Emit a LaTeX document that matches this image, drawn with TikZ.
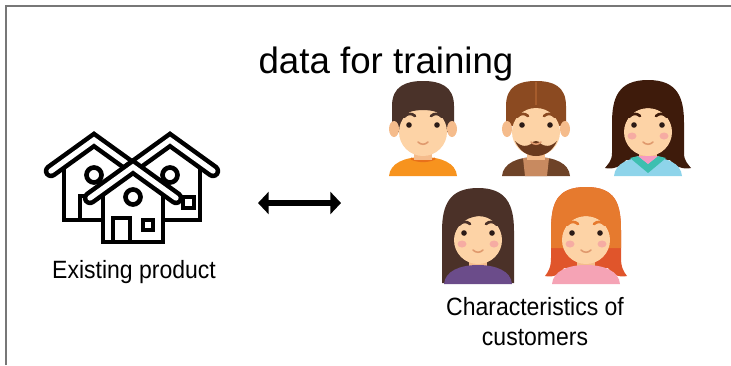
\documentclass[tikz,border=0pt]{standalone}
\usepackage{fontspec}
\setmainfont{Liberation Sans}
\newfontfamily\labelfont[FakeStretch=0.92]{Liberation Sans}
\usetikzlibrary{arrows.meta}

\definecolor{framegray}{HTML}{777777}
\definecolor{skin}{HTML}{FDD3A6}
\definecolor{skindark}{HTML}{F5BC8C}
\definecolor{cheek}{HTML}{F6ACA3}
\definecolor{eyecol}{HTML}{2B1B17}
\definecolor{mouthcol}{HTML}{E09A6E}
\definecolor{boyhair}{HTML}{4A3229}
\definecolor{boyshirt}{HTML}{F7931E}
\definecolor{boycollar}{HTML}{E8701A}
\definecolor{manhair}{HTML}{8B4A21}
\definecolor{manpart}{HTML}{A65C2C}
\definecolor{beard}{HTML}{6B3A1E}
\definecolor{vest}{HTML}{6E4328}
\definecolor{manshirt}{HTML}{C88A60}
\definecolor{longhair}{HTML}{3E1B0B}
\definecolor{blueshirt}{HTML}{8ED4EA}
\definecolor{tealcollar}{HTML}{3DBFB0}
\definecolor{pinkinner}{HTML}{F49AC1}
\definecolor{darkhair}{HTML}{4B3128}
\definecolor{purpleshirt}{HTML}{6B4C8A}
\definecolor{redhair}{HTML}{E0552B}
\definecolor{orangehair}{HTML}{E67A2E}
\definecolor{pinkshirt}{HTML}{F5A3B5}

\tikzset{
  roof/.style={line width=3.4pt, double=white, double distance=4pt, line cap=round},
  wall/.style={line width=3.5pt},
  link/.style={line width=5.2pt, {Triangle[length=8pt,width=16.5pt]}-{Triangle[length=8pt,width=16.5pt]}},
  labeltext/.style={font=\labelfont\fontsize{18.75}{22.5}\selectfont, inner sep=0pt},
  brow/.style={draw=#1, line width=2pt, line cap=round},
  mouth/.style={draw=mouthcol, line width=1.2pt, line cap=round}
}

% face parts shared by all avatars
\newcommand{\shirtdome}[1]{\fill[#1] (-34,48) .. controls (-33,35) and (-18,29) .. (0,29) .. controls (18,29) and (33,35) .. (34,48) -- cycle;}
\newcommand{\neck}{\fill[skindark] (-9,16) rectangle (9,32);}
\newcommand{\ears}{\fill[skindark] (-29,1) ellipse (5 and 8); \fill[skindark] (29,1) ellipse (5 and 8);}
\newcommand{\headface}{\fill[skin] (0,4) ellipse (24 and 24);}
\newcommand{\cheeks}{\fill[cheek] (-16,8) ellipse (4.5 and 3.5); \fill[cheek] (16,8) ellipse (4.5 and 3.5);}
\newcommand{\eyesmouth}[1]{%
  \fill[eyecol] (-14,-3) circle (2.8); \fill[eyecol] (14,-3) circle (2.8);
  \draw[brow=#1] (-19,-11) .. controls (-16,-15) and (-11,-15) .. (-8,-12);
  \draw[brow=#1] (19,-11) .. controls (16,-15) and (11,-15) .. (8,-12);
  \draw[mouth] (-5,14) .. controls (-2,17) and (2,17) .. (5,14);}

\begin{document}
\begin{tikzpicture}[x=0.75pt, y=-0.75pt]
	\useasboundingbox (0,0) rectangle (731,365);
	\draw[framegray, line width=1.5pt] (6,365) -- (6,6) -- (731,6); % frame

	\node[font=\fontsize{27.5}{33}\selectfont, anchor=base] (title) at (386,73) {data for training};

	% left house
	\draw[wall] (64,158) -- (64,220) -- (104,220);
	\draw[wall] (80,220) -- (80,196) -- (100,196);
	\draw[wall] (94,175) circle (7.5);
	\draw[roof] (51,171) -- (94,140) -- (137,171);
	% right house
	\draw[wall] (200,158) -- (200,220) -- (160,220);
	\draw[wall] (183,197) rectangle (194,208);
	\draw[wall] (170,175) circle (7.5);
	\draw[roof] (127,171) -- (170,140) -- (213,171);
	% front house
	\fill[white] (88,199) -- (133,164) -- (178,199) -- (163,199) -- (163,243) -- (103,243) -- (103,199) -- cycle;
	\draw[wall] (103,188) -- (103,242) -- (163,242) -- (163,188);
	\draw[wall] (113,242) -- (113,218) -- (130,218) -- (130,242); % door
	\draw[wall] (143,220) rectangle (153,230); % window
	\draw[wall] (133,197) circle (7.5);
	\draw[roof] (90,198) -- (133,167) -- (176,198);

	\node[labeltext, anchor=base] (prodlabel) at (134,278) {Existing product};

	\coordinate (linkL) at (258,203);
	\coordinate (linkR) at (341,203);
	\draw[link] (linkL) -- (linkR);

	% boy
	\begin{scope}[shift={(423,128)}]
		\shirtdome{boyshirt}
		\draw[boycollar, line width=1.5pt] (-12,30.5) .. controls (-5,34) and (5,34) .. (12,30.5);
		\neck
		\fill[boyhair] (-31,4) -- (-31,-22) .. controls (-31,-42) and (-17,-47) .. (0,-47) .. controls (17,-47) and (31,-42) .. (31,-22) -- (31,4) -- cycle;
		\ears
		\headface
		\fill[boyhair] (-25,-8) .. controls (-20,-16) and (-8,-18) .. (0,-18) .. controls (8,-18) and (20,-16) .. (25,-8) -- (25,-30) -- (-25,-30) -- cycle;
		\eyesmouth{boyhair}
	\end{scope}

	% man with beard
	\begin{scope}[shift={(536,128)}]
		\shirtdome{vest}
		\fill[manshirt] (-13,30) -- (13,30) -- (11,48) -- (-11,48) -- cycle;
		\neck
		\fill[manhair] (-30,-2) -- (-30,-22) .. controls (-30,-42) and (-17,-47) .. (0,-47) .. controls (17,-47) and (30,-42) .. (30,-22) -- (30,-2) -- cycle;
		\ears
		\headface
		\fill[manhair] (-25,-4) .. controls (-22,-18) and (-10,-22) .. (0,-22) .. controls (10,-22) and (22,-18) .. (25,-4) -- (25,-32) -- (-25,-32) -- cycle;
		\draw[manpart, line width=1pt] (0,-46) -- (0,-23);
		\fill[beard] (-21,13) .. controls (-16,24) and (-8,28) .. (0,28) .. controls (8,28) and (16,24) .. (21,13) .. controls (14,20) and (8,18) .. (5,16) .. controls (3,12) and (-3,12) .. (-5,16) .. controls (-8,18) and (-14,20) .. (-21,13) -- cycle;
		\eyesmouth{manhair}
	\end{scope}

	% girl with long dark hair
	\begin{scope}[shift={(648,128)}]
		\fill[longhair] (0,-48) .. controls (-30,-48) and (-36,-30) .. (-36,-5) -- (-36,25) .. controls (-36,33) and (-40,36) .. (-43,40) .. controls (-35,42) and (-26,38) .. (-22,32) -- (22,32) .. controls (26,38) and (35,42) .. (43,40) .. controls (40,36) and (36,33) .. (36,25) -- (36,-5) .. controls (36,-30) and (30,-48) .. (0,-48) -- cycle;
		\neck
		\shirtdome{blueshirt}
		\fill[tealcollar] (-18,30) -- (-10,28) -- (0,36) -- (10,28) -- (18,30) -- (0,45) -- cycle;
		\fill[pinkinner] (-10,28) -- (10,28) -- (0,36) -- cycle;
		\headface
		\fill[longhair] (-25,6) .. controls (-24,-12) and (-12,-20) .. (0,-20) .. controls (12,-20) and (24,-12) .. (25,6) -- (27,6) -- (27,-32) -- (-27,-32) -- (-27,6) -- cycle;
		\cheeks
		\eyesmouth{longhair}
	\end{scope}

	% girl with straight hair
	\begin{scope}[shift={(478,236)}]
		\fill[darkhair] (0,-48) .. controls (-28,-48) and (-36,-32) .. (-36,-5) -- (-36,47) -- (36,47) -- (36,-5) .. controls (36,-32) and (28,-48) .. (0,-48) -- cycle;
		\neck
		\shirtdome{purpleshirt}
		\headface
		\fill[darkhair] (-25,6) .. controls (-23,-14) and (-8,-21) .. (6,-20) .. controls (16,-18) and (24,-10) .. (25,6) -- (27,6) -- (27,-32) -- (-27,-32) -- (-27,6) -- cycle;
		\cheeks
		\eyesmouth{darkhair}
	\end{scope}

	% girl with red hair
	\begin{scope}[shift={(586,236)}]
		\fill[redhair] (0,-49) .. controls (-30,-49) and (-35,-32) .. (-35,-5) -- (-35,22) .. controls (-35,32) and (-38,36) .. (-41,40) .. controls (-33,42) and (-25,38) .. (-22,32) -- (22,32) .. controls (25,38) and (33,42) .. (41,40) .. controls (38,36) and (35,32) .. (35,22) -- (35,-5) .. controls (35,-32) and (30,-49) .. (0,-49) -- cycle;
		\fill[orangehair] (0,-49) .. controls (-30,-49) and (-35,-32) .. (-35,-5) -- (-35,12) -- (35,12) -- (35,-5) .. controls (35,-32) and (30,-49) .. (0,-49) -- cycle;
		\neck
		\shirtdome{pinkshirt}
		\headface
		\fill[orangehair] (-25,6) .. controls (-24,-12) and (-12,-20) .. (0,-20) .. controls (12,-20) and (24,-12) .. (25,6) -- (27,6) -- (27,-32) -- (-27,-32) -- (-27,6) -- cycle;
		\cheeks
		\eyesmouth{orangehair}
	\end{scope}

	\node[labeltext, align=center, anchor=north] (custlabel) at (535,297) {Characteristics of\\customers};
\end{tikzpicture}
\end{document}
